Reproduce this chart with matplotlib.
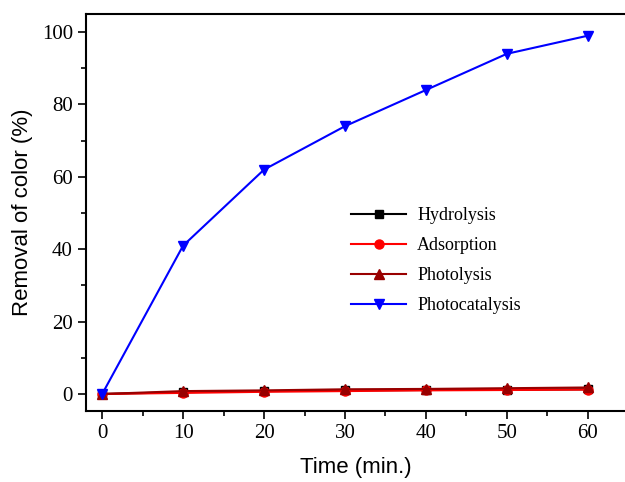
import matplotlib
matplotlib.use("Agg")
import matplotlib.pyplot as plt
from matplotlib.ticker import MultipleLocator

time = [0, 10, 20, 30, 40, 50, 60]
hydrolysis = [0, 0.5, 0.8, 1.0, 1.1, 1.2, 1.3]
adsorption = [0, 0.3, 0.6, 0.8, 1.0, 1.1, 1.2]
photolysis = [0, 0.8, 1.0, 1.3, 1.4, 1.6, 1.8]
photocatalysis = [0, 41, 62, 74, 84, 94, 99]

fig = plt.figure(figsize=(6.25, 4.82), dpi=100)
ax = fig.add_axes([86/625, 1-411/482, 1-86/625, (411-14)/482])

ax.plot(time, hydrolysis, color="black", marker="s", ms=5.5, lw=1.5, label="Hydrolysis")
ax.plot(time, adsorption, color="red", marker="o", ms=6.5, lw=1.5, label="Adsorption")
ax.plot(time, photolysis, color="#990000", marker="^", ms=7.5, lw=1.5, label="Photolysis")
ax.plot(time, photocatalysis, color="blue", marker="v", ms=7.5, lw=1.5, label="Photocatalysis")

ax.set_xlim(-2, 64.6)
ax.set_ylim(-4.7, 105)
ax.xaxis.set_major_locator(MultipleLocator(10))
ax.xaxis.set_minor_locator(MultipleLocator(5))
ax.yaxis.set_major_locator(MultipleLocator(20))
ax.yaxis.set_minor_locator(MultipleLocator(10))
ax.tick_params(which="major", direction="out", length=6, width=1.2, labelsize=15)
ax.tick_params(which="minor", direction="out", length=3.5, width=1.2)
for lbl in ax.get_xticklabels() + ax.get_yticklabels():
    lbl.set_fontfamily("Liberation Serif")
for s in ax.spines.values():
    s.set_linewidth(1.5)
ax.spines["right"].set_visible(False)

ax.set_xlabel("Time (min.)", fontsize=16, family="Liberation Sans", labelpad=10)
ax.set_ylabel("Removal of color (%)", fontsize=16, family="Liberation Sans", labelpad=6)

ax.legend(loc="upper left", bbox_to_anchor=(0.462, 0.555), frameon=False,
          prop={"family": "Liberation Serif", "size": 13}, handlelength=3.05,
          labelspacing=0.72, handletextpad=0.6)

fig.savefig("out.png", dpi=100)
